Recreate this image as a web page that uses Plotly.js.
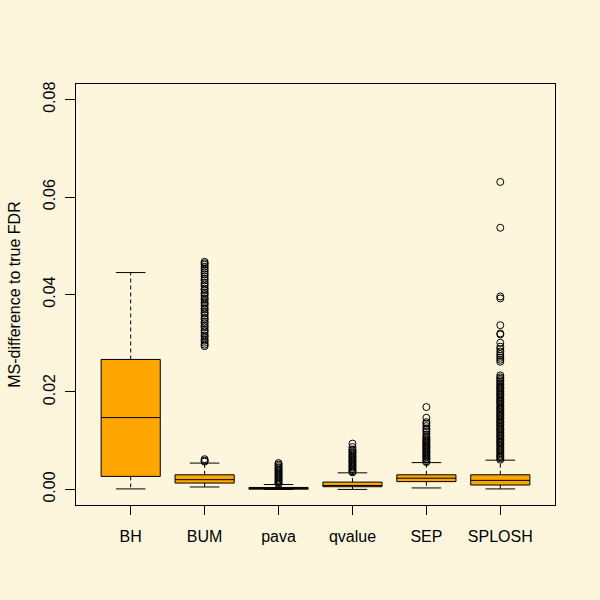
<!DOCTYPE html>
<html>
<head>
<meta charset="utf-8">
<script src="https://cdn.plot.ly/plotly-3.0.1.min.js"></script>
<style>
  html, body { margin: 0; padding: 0; background: #fdf6dd; }
  #chart { width: 600px; height: 600px; }
</style>
</head>
<body>
<div id="chart"></div>
<script>
const methods = ['BH', 'BUM', 'pava', 'qvalue', 'SEP', 'SPLOSH'];
const positions = [1, 2, 3, 4, 5, 6];

// box statistics
const q1 = [0.00267, 0.0013, 0.00005, 0.00055, 0.0016, 0.0009];
const median = [0.01474, 0.0020, 0.0002, 0.0008, 0.0023, 0.00185];
const q3 = [0.02667, 0.0030, 0.0004, 0.0015, 0.0030, 0.0030];
const lowerWhisker = [0.0001, 0.0005, 0.0, 0.0, 0.0003, 0.0001];
const upperWhisker = [0.0445, 0.0054, 0.0010, 0.0034, 0.0055, 0.0060];

// outliers per method
const outBH = [];
const outBUM = [0.0057, 0.0059, 0.0062, 0.0294, 0.0297, 0.0301, 0.0305, 0.0308, 0.0313, 0.0316,
  0.0321, 0.0325, 0.0328, 0.0333, 0.0336, 0.0341, 0.0344, 0.0349, 0.0352, 0.0357, 0.0361,
  0.0364, 0.0369, 0.0372, 0.0377, 0.0381, 0.0384, 0.0389, 0.0392, 0.0397, 0.0401, 0.0404,
  0.0409, 0.0412, 0.0417, 0.0421, 0.0424, 0.0429, 0.0432, 0.0437, 0.0441, 0.0445, 0.0449,
  0.0453, 0.0457, 0.0461, 0.0464, 0.0467];
const outPava = [0.0011, 0.0013, 0.0015, 0.0018, 0.0020, 0.0023, 0.0025, 0.0028, 0.0030,
  0.0033, 0.0035, 0.0038, 0.0040, 0.0043, 0.0045, 0.0048, 0.0051, 0.0054];
const outQvalue = [0.0035, 0.0037, 0.0040, 0.0042, 0.0045, 0.0047, 0.0050, 0.0052, 0.0055,
  0.0057, 0.0060, 0.0062, 0.0065, 0.0067, 0.0070, 0.0072, 0.0075, 0.0077, 0.0080, 0.0082,
  0.0087, 0.0094];
const outSEP = [0.0056, 0.0058, 0.0061, 0.0063, 0.0066, 0.0068, 0.0071, 0.0073, 0.0076,
  0.0078, 0.0081, 0.0083, 0.0086, 0.0088, 0.0091, 0.0093, 0.0096, 0.0098, 0.0101, 0.0103,
  0.0106, 0.0109, 0.0113, 0.0118, 0.0122, 0.0125, 0.0130, 0.0135, 0.0138, 0.0147, 0.0169];
const outSPLOSH = [0.0061, 0.0064, 0.0067, 0.0069, 0.0072, 0.0075, 0.0078, 0.0081, 0.0083,
  0.0086, 0.0089, 0.0092, 0.0095, 0.0097, 0.0100, 0.0103, 0.0106, 0.0109, 0.0111, 0.0114,
  0.0117, 0.0120, 0.0123, 0.0125, 0.0128, 0.0131, 0.0134, 0.0137, 0.0139, 0.0142, 0.0145,
  0.0148, 0.0151, 0.0153, 0.0156, 0.0159, 0.0162, 0.0165, 0.0167, 0.0170, 0.0173, 0.0176,
  0.0179, 0.0181, 0.0184, 0.0187, 0.0190, 0.0193, 0.0195, 0.0198, 0.0201, 0.0204, 0.0207,
  0.0209, 0.0212, 0.0215, 0.0218, 0.0221, 0.0224, 0.0227, 0.0230, 0.0234,
  0.0262, 0.0266, 0.0270, 0.0274, 0.0278, 0.0283, 0.0288, 0.0293, 0.0301, 0.0318, 0.0320,
  0.0337, 0.0392, 0.0396, 0.0537, 0.0631];
const outliers = [outBH, outBUM, outPava, outQvalue, outSEP, outSPLOSH];

const yTicks = [0, 0.02, 0.04, 0.06, 0.08];

const boxWidth = 0.8;
const stapleHalf = 0.2;

const traces = [];

// whiskers: dashed stems and solid staples
const stemX = [], stemY = [], stapleX = [], stapleY = [];
positions.forEach((p, i) => {
  stemX.push(p, p, null, p, p, null);
  stemY.push(q3[i], upperWhisker[i], null, q1[i], lowerWhisker[i], null);
  stapleX.push(p - stapleHalf, p + stapleHalf, null, p - stapleHalf, p + stapleHalf, null);
  stapleY.push(upperWhisker[i], upperWhisker[i], null, lowerWhisker[i], lowerWhisker[i], null);
});
traces.push({ x: stemX, y: stemY, type: 'scatter', mode: 'lines', line: { color: '#000', width: 1, dash: '4px,3px' }, hoverinfo: 'skip' });
traces.push({ x: stapleX, y: stapleY, type: 'scatter', mode: 'lines', line: { color: '#000', width: 1 }, hoverinfo: 'skip' });

// boxes
traces.push({
  type: 'box',
  x: positions,
  q1: q1,
  median: median,
  q3: q3,
  lowerfence: q1,
  upperfence: q3,
  width: boxWidth,
  whiskerwidth: 0,
  fillcolor: '#ffa500',
  line: { color: '#000', width: 1 },
  boxpoints: false,
  hoverinfo: 'y'
});

// outliers
outliers.forEach((vals, i) => {
  if (!vals.length) return;
  traces.push({
    x: vals.map(() => positions[i]),
    y: vals,
    type: 'scatter',
    mode: 'markers',
    marker: { symbol: 'circle-open', size: 7, color: '#000', line: { width: 1, color: '#000' } },
    hoverinfo: 'y'
  });
});

const layout = {
  width: 600,
  height: 600,
  paper_bgcolor: '#fdf6dd',
  plot_bgcolor: '#fdf6dd',
  showlegend: false,
  font: { family: 'Liberation Sans, Arial, sans-serif', color: '#000', size: 16 },
  margin: { l: 76, r: 45, t: 84, b: 95 },
  xaxis: {
    range: [0.26, 6.74],
    tickvals: positions,
    ticktext: methods,
    ticks: 'outside',
    ticklen: 9,
    tickcolor: '#000',
    ticklabelstandoff: 8,
    showline: true,
    mirror: true,
    linecolor: '#000',
    linewidth: 1,
    showgrid: false,
    zeroline: false,
    tickfont: { size: 16 }
  },
  yaxis: {
    range: [-0.0032, 0.0832],
    tickvals: yTicks,
    tickformat: '.2f',
    tickangle: -90,
    ticks: 'outside',
    ticklen: 10,
    tickcolor: '#000',
    ticklabelstandoff: 4,
    showline: true,
    mirror: true,
    linecolor: '#000',
    linewidth: 1,
    showgrid: false,
    zeroline: false,
    tickfont: { size: 16 },
    title: { text: 'MS-difference to true FDR', font: { size: 16 }, standoff: 15 }
  }
};

Plotly.newPlot('chart', traces, layout, { displayModeBar: false, staticPlot: true });
</script>
</body>
</html>
